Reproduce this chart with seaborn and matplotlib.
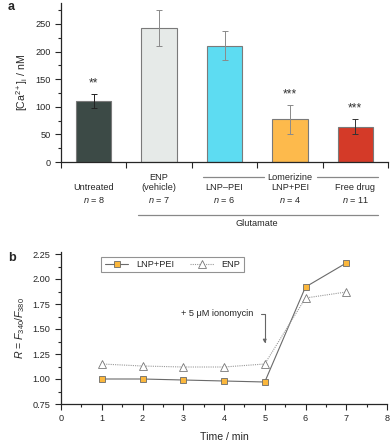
import numpy as np
import pandas as pd
import matplotlib
matplotlib.use("Agg")
import matplotlib.pyplot as plt
from matplotlib.ticker import MultipleLocator
import seaborn as sns

# ---------- data ----------
GROUPS = ["Untreated", "ENP", "LNP-PEI", "LNP+PEI", "Free drug"]
CA_MEAN = [110, 243, 211, 77, 64]
CA_ERR = [13, 33, 27, 27, 14]
N_LABELS = ["n = 8", "n = 7", "n = 6", "n = 4", "n = 11"]
STARS = ["**", "", "", "***", "***"]
BAR_COLORS = ["#3c4a46", "#e6eae8", "#5ddcf2", "#fdba4c", "#d43a28"]
ERR_COLORS = ["#222222", "#8a8a8a", "#8a8a8a", "#8a8a8a", "#333333"]

TIME = [1, 2, 3, 4, 5, 6, 7]
R_LNP = [1.00, 1.00, 0.99, 0.98, 0.97, 1.92, 2.16]
R_ENP = [1.15, 1.13, 1.12, 1.12, 1.15, 1.81, 1.87]

FS = 6.6
W, H = 391, 441

sns.set_style("ticks")
plt.rcParams["font.family"] = ["Liberation Sans", "DejaVu Sans"]
plt.rcParams["mathtext.fontset"] = "custom"
plt.rcParams["mathtext.rm"] = "Liberation Sans"
plt.rcParams["mathtext.it"] = "Liberation Sans:italic"

fig = plt.figure(figsize=(W / 100, H / 100), dpi=100)


def frac(left, top, right, bottom):
    return [left / W, 1 - bottom / H, (right - left) / W, (bottom - top) / H]


# ---------- panel a ----------
ax = fig.add_axes(frac(61, 3, 388, 162))
df = pd.DataFrame({"group": GROUPS, "ca": CA_MEAN})
sns.barplot(data=df, x="group", y="ca", hue="group", palette=BAR_COLORS,
            saturation=1, width=0.54, edgecolor="#7a7a7a", linewidth=0.8,
            legend=False, errorbar=None, ax=ax)
for i, (m, e) in enumerate(zip(CA_MEAN, CA_ERR)):
    ax.errorbar(i, m, yerr=e, color=ERR_COLORS[i], capsize=2.4,
                elinewidth=0.7, capthick=0.7)
    if STARS[i]:
        ax.text(i, m + e + 8, STARS[i], ha="center", va="bottom",
                fontsize=FS + 2, color="#333333")

ax.set_xlim(-0.5, 4.5)
ax.set_ylim(0, 288)
ax.yaxis.set_major_locator(MultipleLocator(50))
ax.yaxis.set_minor_locator(MultipleLocator(25))
ax.set_xticks(np.arange(-0.5, 5, 1))
ax.set_xticklabels([])
ax.tick_params(axis="x", which="major", length=4, width=0.8, direction="out")
ax.tick_params(axis="y", which="major", length=4, width=0.8, labelsize=FS)
ax.tick_params(axis="y", which="minor", length=2, width=0.8)
ax.set_xlabel("")
ax.set_ylabel(r"[Ca$^{2+}$]$_\mathrm{i}$ / nM", fontsize=FS + 1, labelpad=4)
for s in ["top", "right"]:
    ax.spines[s].set_visible(False)
for s in ["left", "bottom"]:
    ax.spines[s].set_linewidth(0.9)

# category labels below the axis
upper = ["", "ENP", "", "", ""]
middle = ["Untreated", "(vehicle)", "LNP\u2013PEI", "LNP+PEI", "Free drug"]
tr = ax.get_xaxis_transform()
for i in range(5):
    if upper[i]:
        ax.text(i, -(177 - 162) / 159, upper[i], transform=tr, ha="center",
                va="center", fontsize=FS)
    ax.text(i, -(188 - 162) / 159, middle[i], transform=tr, ha="center",
            va="center", fontsize=FS)
    ax.text(i, -(200 - 162) / 159, "$n$ = " + N_LABELS[i][4:], transform=tr,
            ha="center", va="center", fontsize=FS)

# Lomerizine bracket
ly = -(177 - 162) / 159
ax.plot([1.67, 2.6], [ly, ly], transform=tr, color="#888888", lw=0.9, clip_on=False)
ax.plot([3.42, 4.35], [ly, ly], transform=tr, color="#888888", lw=0.9, clip_on=False)
ax.text(3, ly, "Lomerizine", transform=tr, ha="center", va="center", fontsize=FS)
# Glutamate line
gy = -(215 - 162) / 159
ax.plot([0.67, 4.35], [gy, gy], transform=tr, color="#888888", lw=0.9, clip_on=False)
ax.text(2.5, -(224 - 162) / 159, "Glutamate", transform=tr, ha="center",
        va="center", fontsize=FS)

fig.text(8 / W, 1 - 7 / H, "a", fontsize=FS + 2.5, fontweight="bold", va="center")

# ---------- panel b ----------
bx = fig.add_axes(frac(61, 252, 387, 404))
dfb = pd.DataFrame({"t": TIME * 2, "r": R_LNP + R_ENP,
                    "series": ["LNP+PEI"] * 7 + ["ENP"] * 7})
sns.lineplot(data=dfb, x="t", y="r", hue="series", style="series",
             palette={"LNP+PEI": "#6a6a6a", "ENP": "#9a9a9a"},
             dashes={"LNP+PEI": "", "ENP": (1, 1)},
             markers={"LNP+PEI": "s", "ENP": "^"}, linewidth=0.8, ax=bx)
lines = bx.get_lines()
lines[0].set_markerfacecolor("#fbb73c")
lines[0].set_markeredgecolor("#6a6a6a")
lines[0].set_markersize(5)
lines[0].set_markeredgewidth(0.6)
lines[1].set_markerfacecolor("white")
lines[1].set_markeredgecolor("#777777")
lines[1].set_markersize(6)
lines[1].set_markeredgewidth(0.6)

bx.set_xlim(0, 8)
bx.set_ylim(0.75, 2.27)
bx.xaxis.set_major_locator(MultipleLocator(1))
bx.xaxis.set_minor_locator(MultipleLocator(0.5))
bx.yaxis.set_major_locator(MultipleLocator(0.25))
bx.yaxis.set_minor_locator(MultipleLocator(0.125))
bx.yaxis.set_major_formatter(matplotlib.ticker.FormatStrFormatter("%.2f"))
bx.tick_params(which="major", length=4, width=0.8, labelsize=FS)
bx.tick_params(which="minor", length=2, width=0.8)
for s in ["top", "right"]:
    bx.spines[s].set_visible(False)
for s in ["left", "bottom"]:
    bx.spines[s].set_linewidth(0.9)
bx.set_xlabel("Time / min", fontsize=FS + 1, labelpad=6)
bx.set_ylabel(r"$R$ = $F_{340}$/$F_{380}$", fontsize=FS + 1, labelpad=4)

leg = bx.legend(handles=lines[:2], labels=["LNP+PEI", "ENP"], ncol=2,
                loc="upper left", bbox_to_anchor=(0.11, 1.0), fontsize=FS,
                frameon=True, fancybox=False, edgecolor="#777777",
                handlelength=2.6, columnspacing=1.8, borderpad=0.35)
leg.get_frame().set_linewidth(0.8)

bx.annotate("", xy=(5, 1.33), xytext=(4.83, 1.65),
            arrowprops=dict(arrowstyle="-|>", color="#666666", lw=0.8,
                            mutation_scale=5,
                            connectionstyle="angle,angleA=0,angleB=90,rad=0"))
bx.text(4.72, 1.65, "+ 5 \u03bcM ionomycin", ha="right", va="center", fontsize=FS)

fig.text(8 / W, 1 - 258 / H, "b", fontsize=FS + 2.5, fontweight="bold", va="center")

fig.savefig("out.png", dpi=100)
